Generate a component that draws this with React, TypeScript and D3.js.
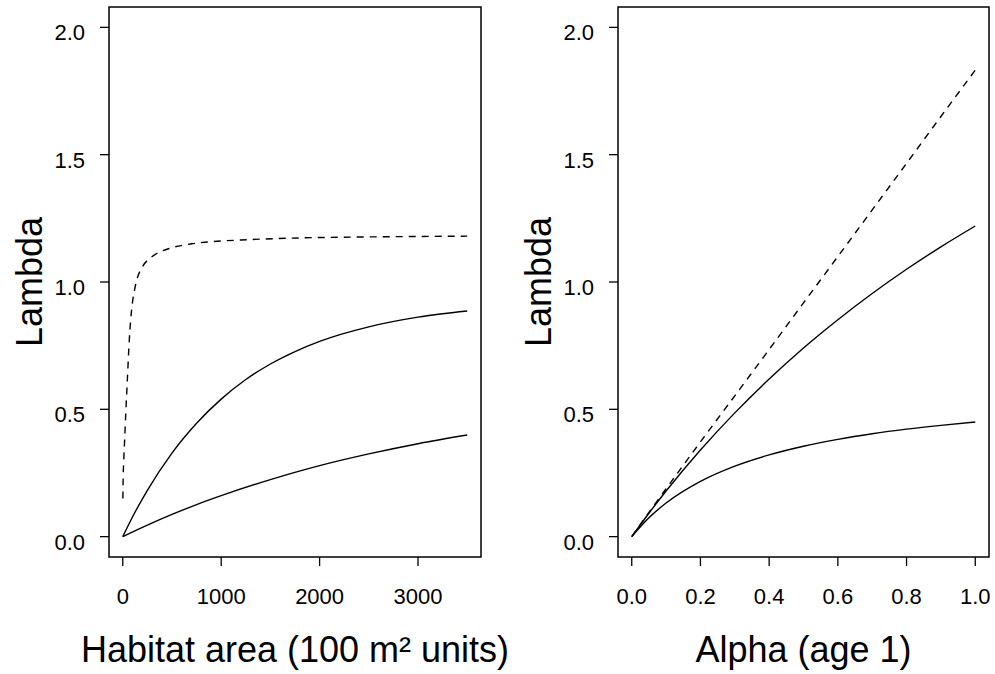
import React from "react";
import * as d3 from "d3";

// Left panel: Habitat area
const areaX = [0, 100, 250, 500, 750, 1000, 1250, 1500, 1750, 2000, 2500, 3000, 3500];
const areaUpper = [0, 0.078, 0.182, 0.328, 0.445, 0.54, 0.617, 0.678, 0.727, 0.767, 0.824, 0.862, 0.886];
const areaLowerX = [0, 250, 500, 750, 1000, 1500, 2000, 2500, 3000, 3500];
const areaLower = [0, 0.045, 0.087, 0.126, 0.161, 0.224, 0.279, 0.325, 0.365, 0.399];
const areaDashX = [1, 3, 10, 20, 30, 47, 63, 80, 97, 120, 140, 200, 282, 383, 483, 700, 856, 1200, 1792, 2500, 3500];
const areaDash = [0.15, 0.21, 0.3, 0.39, 0.48, 0.62, 0.75, 0.85, 0.915, 0.97, 1.005, 1.06, 1.095, 1.119, 1.133, 1.15, 1.157, 1.165, 1.173, 1.177, 1.18];

// Right panel: Alpha (age 1)
const alphaX = [0, 0.05, 0.1, 0.2, 0.3, 0.4, 0.5, 0.6, 0.7, 0.8, 0.9, 1.0];
const alphaDash = [0, 0.095, 0.188, 0.372, 0.553, 0.735, 0.918, 1.1, 1.283, 1.466, 1.65, 1.832];
const alphaUpper = [0, 0.092, 0.179, 0.34, 0.486, 0.619, 0.741, 0.852, 0.955, 1.05, 1.138, 1.22];
const alphaLower = [0, 0.074, 0.132, 0.217, 0.277, 0.321, 0.355, 0.382, 0.404, 0.422, 0.437, 0.45];

const yTicks = [0, 0.5, 1.0, 1.5, 2.0];
const areaTicks = [0, 1000, 2000, 3000];
const alphaTicks = [0, 0.2, 0.4, 0.6, 0.8, 1.0];

const FONT = "'Liberation Sans', Arial, Helvetica, sans-serif";

type Series = { xs: number[]; ys: number[]; dashed: boolean };

function Panel(props: {
  left: number;
  right: number;
  xDomain: [number, number];
  xTicks: number[];
  xFmt: (v: number) => string;
  xTitle: string;
  series: Series[];
}) {
  const top = 7;
  const bottom = 557;
  const x = d3.scaleLinear().domain(props.xDomain).range([props.left, props.right]);
  const y = d3.scaleLinear().domain([-0.08, 2.08]).range([bottom, top]);
  const line = d3
    .line<[number, number]>()
    .x((d) => x(d[0]))
    .y((d) => y(d[1]))
    .curve(d3.curveMonotoneX);
  const cx = (props.left + props.right) / 2;
  const cy = (top + bottom) / 2;
  return (
    <g>
      {props.series.map((s, i) => (
        <path
          key={i}
          d={line(s.xs.map((v, j) => [v, s.ys[j]] as [number, number])) || ""}
          fill="none"
          stroke="#000"
          strokeWidth={1.4}
          strokeDasharray={s.dashed ? "7,6" : undefined}
        />
      ))}
      <rect
        x={props.left}
        y={top}
        width={props.right - props.left}
        height={bottom - top}
        fill="none"
        stroke="#000"
        strokeWidth={1.5}
      />
      {yTicks.map((t) => (
        <g key={"y" + t}>
          <line x1={props.left - 9} x2={props.left} y1={y(t)} y2={y(t)} stroke="#000" strokeWidth={1.3} />
          <text
            x={props.left - 24}
            y={y(t) + 13}
            textAnchor="end"
            fontFamily={FONT}
            fontSize={22}
            fill="#000"
          >
            {d3.format(".1f")(t)}
          </text>
        </g>
      ))}
      {props.xTicks.map((t) => (
        <g key={"x" + t}>
          <line x1={x(t)} x2={x(t)} y1={bottom} y2={bottom + 9} stroke="#000" strokeWidth={1.3} />
          <text x={x(t)} y={604} textAnchor="middle" fontFamily={FONT} fontSize={22} fill="#000">
            {props.xFmt(t)}
          </text>
        </g>
      ))}
      <text x={cx} y={662} textAnchor="middle" fontFamily={FONT} fontSize={36} fill="#000">
        {props.xTitle}
      </text>
      <text
        transform={`translate(${props.left - 67},${cy}) rotate(-90)`}
        textAnchor="middle"
        fontFamily={FONT}
        fontSize={36}
        fill="#000"
      >
        Lambda
      </text>
    </g>
  );
}

export default function App() {
  return (
    <svg
      width={995}
      height={674}
      style={{ position: "absolute", left: 0, top: 0, background: "#fff" }}
    >
      <rect x={0} y={0} width={995} height={674} fill="#fff" />
      <Panel
        left={109}
        right={481}
        xDomain={[-140, 3640]}
        xTicks={areaTicks}
        xFmt={(v) => String(v)}
        xTitle="Habitat area (100 m² units)"
        series={[
          { xs: areaDashX, ys: areaDash, dashed: true },
          { xs: areaX, ys: areaUpper, dashed: false },
          { xs: areaLowerX, ys: areaLower, dashed: false },
        ]}
      />
      <Panel
        left={618}
        right={989}
        xDomain={[-0.04, 1.04]}
        xTicks={alphaTicks}
        xFmt={(v) => d3.format(".1f")(v)}
        xTitle="Alpha (age 1)"
        series={[
          { xs: alphaX, ys: alphaDash, dashed: true },
          { xs: alphaX, ys: alphaUpper, dashed: false },
          { xs: alphaX, ys: alphaLower, dashed: false },
        ]}
      />
    </svg>
  );
}
